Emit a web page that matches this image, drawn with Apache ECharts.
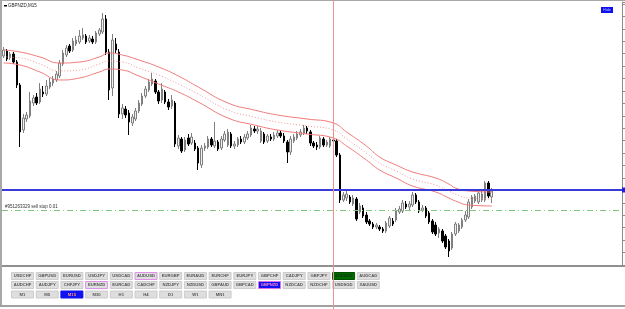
<!DOCTYPE html>
<html><head><meta charset="utf-8">
<script src="https://cdn.jsdelivr.net/npm/echarts@6/dist/echarts.min.js"></script>
<style>html,body{margin:0;padding:0;background:#fff;overflow:hidden}#c{width:625px;height:309px}</style>
</head><body><div id="c"></div>
<script>
const chartTitle = 'GBPNZD,M15';
const openP = [2.144,2.149,2.142,2.146,2.138,2.115,2.070,2.081,2.084,2.097,
2.103,2.098,2.108,2.106,2.113,2.117,2.120,2.124,2.136,2.145,
2.154,2.150,2.156,2.158,2.162,2.164,2.159,2.161,2.158,2.166,
2.168,2.181,2.148,2.112,2.156,2.148,2.086,2.091,2.087,2.077,
2.081,2.089,2.096,2.104,2.110,2.116,2.119,2.108,2.100,2.108,
2.098,2.094,2.097,2.054,2.061,2.050,2.062,2.057,2.057,2.052,
2.035,2.052,2.053,2.061,2.054,2.058,2.052,2.060,2.055,2.066,
2.054,2.055,2.061,2.058,2.062,2.065,2.071,2.069,2.059,2.066,
2.059,2.063,2.061,2.064,2.067,2.064,2.058,2.048,2.059,2.062,
2.065,2.067,2.072,2.068,2.057,2.055,2.053,2.061,2.055,2.054,
2.060,2.059,2.045,2.000,2.002,2.003,1.996,2.001,1.988,1.992,
1.985,1.979,1.976,1.973,1.973,1.971,1.969,1.974,1.979,1.980,
1.988,1.989,1.996,1.993,1.995,2.005,1.998,1.990,1.992,1.987,
1.979,1.975,1.967,1.969,1.964,1.959,1.952,1.966,1.969,1.973,
1.980,1.983,1.993,1.999,1.998,2.000,2.000,2.017,2.003];
const closeP = [2.150,2.141,2.146,2.138,2.115,2.068,2.082,2.085,2.099,2.102,
2.097,2.111,2.106,2.114,2.118,2.121,2.126,2.137,2.147,2.152,
2.149,2.159,2.160,2.164,2.165,2.158,2.162,2.158,2.167,2.170,
2.181,2.148,2.110,2.160,2.150,2.086,2.092,2.085,2.078,2.083,
2.089,2.097,2.104,2.111,2.118,2.121,2.108,2.099,2.111,2.098,
2.093,2.100,2.056,2.062,2.049,2.060,2.056,2.063,2.051,2.037,
2.052,2.054,2.061,2.055,2.059,2.051,2.061,2.066,2.068,2.054,
2.056,2.061,2.058,2.063,2.066,2.072,2.069,2.071,2.069,2.058,
2.064,2.061,2.065,2.067,2.064,2.059,2.048,2.061,2.063,2.066,
2.068,2.072,2.069,2.057,2.054,2.053,2.062,2.055,2.058,2.061,
2.059,2.045,2.000,2.005,2.006,1.998,2.002,1.981,1.994,1.984,
1.978,1.976,1.973,1.975,1.971,1.969,1.977,1.982,1.976,1.989,
1.991,1.997,1.993,1.996,2.005,1.998,1.989,1.992,1.984,1.978,
1.968,1.966,1.971,1.959,1.953,1.949,1.966,1.976,1.975,1.980,
1.985,1.998,2.003,2.004,2.007,2.006,2.017,2.004,2.009];
const lowP = [2.142,2.139,2.140,2.136,2.112,2.053,2.067,2.078,2.082,2.094,
2.095,2.096,2.103,2.104,2.111,2.114,2.118,2.122,2.134,2.143,
2.147,2.148,2.154,2.156,2.160,2.156,2.157,2.156,2.156,2.164,
2.166,2.145,2.100,2.104,2.147,2.082,2.081,2.082,2.065,2.074,
2.079,2.087,2.094,2.102,2.108,2.114,2.106,2.096,2.097,2.096,
2.090,2.091,2.053,2.051,2.047,2.048,2.054,2.055,2.049,2.030,
2.032,2.049,2.051,2.053,2.052,2.049,2.050,2.058,2.053,2.052,
2.051,2.053,2.056,2.056,2.060,2.063,2.067,2.066,2.057,2.056,
2.057,2.059,2.059,2.062,2.062,2.057,2.037,2.045,2.057,2.060,
2.063,2.065,2.066,2.054,2.052,2.050,2.051,2.053,2.053,2.052,
2.057,2.043,1.997,1.998,1.999,1.996,1.994,1.979,1.986,1.982,
1.976,1.974,1.971,1.971,1.969,1.967,1.967,1.972,1.974,1.978,
1.986,1.987,1.991,1.990,1.993,1.996,1.987,1.988,1.982,1.976,
1.966,1.964,1.962,1.957,1.951,1.943,1.950,1.964,1.967,1.971,
1.978,1.981,1.991,1.997,1.996,1.998,1.998,2.002,1.997];
const highP = [2.153,2.151,2.148,2.148,2.140,2.117,2.086,2.088,2.108,2.105,
2.107,2.117,2.114,2.120,2.122,2.124,2.129,2.140,2.150,2.155,
2.156,2.162,2.164,2.170,2.172,2.166,2.165,2.164,2.169,2.172,
2.187,2.185,2.151,2.166,2.162,2.151,2.096,2.094,2.090,2.086,
2.092,2.100,2.107,2.114,2.121,2.127,2.121,2.110,2.117,2.110,
2.101,2.105,2.099,2.065,2.063,2.063,2.066,2.067,2.060,2.054,
2.055,2.057,2.064,2.063,2.078,2.060,2.064,2.069,2.071,2.068,
2.059,2.063,2.064,2.066,2.069,2.075,2.074,2.074,2.072,2.068,
2.066,2.066,2.068,2.070,2.070,2.067,2.060,2.064,2.066,2.069,
2.071,2.075,2.074,2.070,2.059,2.058,2.064,2.063,2.060,2.063,
2.062,2.061,2.047,2.008,2.010,2.005,2.005,2.003,1.997,1.995,
1.988,1.981,1.978,1.977,1.975,1.973,1.979,1.984,1.982,1.992,
1.994,2.000,1.999,1.999,2.008,2.007,2.000,1.995,1.994,1.989,
1.981,1.978,1.973,1.971,1.966,1.961,1.968,1.978,1.977,1.982,
1.989,2.001,2.005,2.006,2.010,2.009,2.019,2.019,2.012];
const bandIdx = [0,5,11,17,23,29,32,36,41,47,53,59,68,76,83,92,100,104,110,114,119,124,131,135,137,141,148];
const bandUpper = [2.150,2.148,2.143,2.137,2.138,2.143,2.147,2.145,2.140,2.133,2.124,2.113,2.097,2.090,2.085,2.081,2.077,2.068,2.054,2.043,2.035,2.028,2.022,2.016,2.012,2.009,2.008];
const bandMid = [2.143,2.142,2.136,2.129,2.130,2.136,2.139,2.138,2.132,2.125,2.116,2.106,2.090,2.083,2.078,2.074,2.070,2.061,2.047,2.037,2.029,2.021,2.015,2.009,2.006,2.002,2.001];
const bandLower = [2.137,2.135,2.128,2.120,2.122,2.128,2.131,2.130,2.124,2.116,2.108,2.098,2.082,2.075,2.070,2.066,2.062,2.054,2.040,2.030,2.022,2.014,2.008,2.002,1.999,1.995,1.994];
const bidLevel = 2.010;
const orderLevel = 1.992;
const orderLabel = '#951263329 sell stop 0.01';
const markerIndex = 100;
const slotCount = 188;
const symbolsRow1 = ['USDCHF','GBPUSD','EURUSD','USDJPY','USDCAD','AUDUSD','EURGBP','EURAUD','EURCHF','EURJPY','GBPCHF','CADJPY','GBPJPY','AUDNZD','AUDCAD'];
const symbolsRow2 = ['AUDCHF','AUDJPY','CHFJPY','EURNZD','EURCAD','CADCHF','NZDJPY','NZDUSD','GBPAUD','GBPCAD','GBPNZD','NZDCAD','NZDCHF','USDSGD','XAUUSD'];
const timeframes = ['M1','M5','M15','M30','H1','H4','D1','W1','MN1'];
const topButton = 'Hide';

const categories = [];
for (let i = 0; i < slotCount; i++) {
  const m = i * 15;
  const hh = String(Math.floor(m / 60) % 24).padStart(2, '0');
  const mm = String(m % 60).padStart(2, '0');
  categories.push(hh + ':' + mm);
}
const candles = openP.map((o, i) => [o, closeP[i], lowP[i], highP[i]]);
const band = arr => bandIdx.map((x, k) => [x, arr[k]]);

const chart = echarts.init(document.getElementById('c'), null, {renderer: 'canvas'});
const bandColor = '#f27a7a';
chart.setOption({
  animation: false,
  backgroundColor: '#ffffff',
  grid: {left: 2, right: 3, top: 2, height: 263},
  xAxis: {type: 'category', data: categories, boundaryGap: true,
    axisLine: {show: false}, axisTick: {show: false}, axisLabel: {show: false}, splitLine: {show: false}},
  yAxis: [
    {type: 'value', min: 1.935, max: 2.198, show: false},
    {type: 'value', min: 0, max: 21.16, interval: 1, position: 'right',
      axisLine: {show: true, lineStyle: {color: '#8c8c8c', width: 1}},
      axisTick: {show: true, inside: false, length: 3, lineStyle: {color: '#8c8c8c'}},
      axisLabel: {show: false}, splitLine: {show: false}}
  ],
  series: [
    {type: 'line', data: band(bandUpper), smooth: 0.5, showSymbol: false, silent: true,
      lineStyle: {color: bandColor, width: 1}},
    {type: 'line', data: band(bandMid), smooth: 0.5, showSymbol: false, silent: true,
      lineStyle: {color: '#f29a9a', width: 1, type: [1, 2]}},
    {type: 'line', data: band(bandLower), smooth: 0.5, showSymbol: false, silent: true,
      lineStyle: {color: bandColor, width: 1}},
    {type: 'candlestick', data: candles, barWidth: 2,
      itemStyle: {color: '#f0f0f0', color0: '#000000', borderColor: '#808080', borderColor0: '#000000', borderWidth: 1},
      markLine: {silent: true, symbol: ['none', 'none'], animation: false,
        data: [
          {yAxis: bidLevel, lineStyle: {color: '#3a3ad8', width: 2, type: 'solid'}, label: {show: false}},
          {yAxis: orderLevel, lineStyle: {color: '#80c880', width: 1, type: [6, 3, 1, 3]},
            label: {show: true, position: 'insideStartTop', formatter: orderLabel, fontSize: 4.5,
              color: '#333', fontFamily: 'Liberation Sans', distance: [3, 1]}}
        ]}}
  ]
});

const vx = chart.convertToPixel({xAxisIndex: 0}, markerIndex);
const by = chart.convertToPixel({yAxisIndex: 0}, bidLevel);
const g = [];
// frame
g.push({type: 'rect', shape: {x: 0, y: 0, width: 2, height: 306}, style: {fill: '#a8a8a8'}});
g.push({type: 'rect', shape: {x: 0, y: 0, width: 625, height: 1}, style: {fill: '#a8a8a8'}});
g.push({type: 'rect', shape: {x: 2, y: 265, width: 623, height: 2}, style: {fill: '#909090'}});
g.push({type: 'rect', shape: {x: 0, y: 305, width: 625, height: 2}, style: {fill: '#a0a0a0'}});
// vertical line
g.push({type: 'line', shape: {x1: Math.round(vx) + 0.5, y1: 0, x2: Math.round(vx) + 0.5, y2: 309},
  style: {stroke: '#ee9090', lineWidth: 1}, z: 10});
// bid marker on axis
g.push({type: 'rect', shape: {x: 622, y: by - 2.5, width: 3, height: 5}, style: {fill: '#2020e0'}, z: 11});
// title
g.push({type: 'rect', shape: {x: 4, y: 5, width: 3, height: 1.5}, style: {fill: '#000'}});
g.push({type: 'text', x: 8, y: 3, style: {text: chartTitle, fontSize: 4.5, fill: '#222', fontFamily: 'Liberation Sans'}});
// top-right button
g.push({type: 'rect', shape: {x: 601, y: 7, width: 12, height: 6}, style: {fill: '#1010ee'}});
g.push({type: 'text', x: 607, y: 10, style: {text: topButton, fontSize: 3.8, fill: '#a8c0ff', align: 'center', verticalAlign: 'middle', fontFamily: 'Liberation Sans'}});
// buttons
function button(label, x, y, opts) {
  opts = opts || {};
  g.push({type: 'rect', shape: {x: x + 0.5, y: y + 0.5, width: 22, height: 7},
    style: {fill: opts.fill || '#dedede', stroke: opts.stroke || '#c4c4c4', lineWidth: opts.stroke ? 1 : 0.8}});
  g.push({type: 'text', x: x + 11.5, y: y + 4.2, style: {text: label, fontSize: 4.2, fontWeight: 'bold',
    fill: opts.text || '#555', align: 'center', verticalAlign: 'middle', fontFamily: 'Liberation Sans'}});
}
const pitch = 24.7, x0 = 11;
symbolsRow1.forEach((s, i) => {
  let o = {};
  if (s === 'AUDUSD') o = {stroke: '#e090e8'};
  if (s === 'AUDNZD') o = {fill: '#006a00', stroke: '#005000', text: '#0a3a0a'};
  button(s, x0 + i * pitch, 272, o);
});
symbolsRow2.forEach((s, i) => {
  let o = {};
  if (s === 'EURNZD') o = {stroke: '#e090e8'};
  if (s === 'GBPNZD') o = {fill: '#1010f0', stroke: '#e070e8', text: '#ff88c8'};
  button(s, x0 + i * pitch, 281, o);
});
timeframes.forEach((s, i) => {
  let o = {};
  if (s === 'M15') o = {fill: '#1010f0', stroke: '#1010f0', text: '#ff9a70'};
  button(s, x0 + i * pitch, 290.5, o);
});
chart.setOption({graphic: g});
</script>
</body></html>
